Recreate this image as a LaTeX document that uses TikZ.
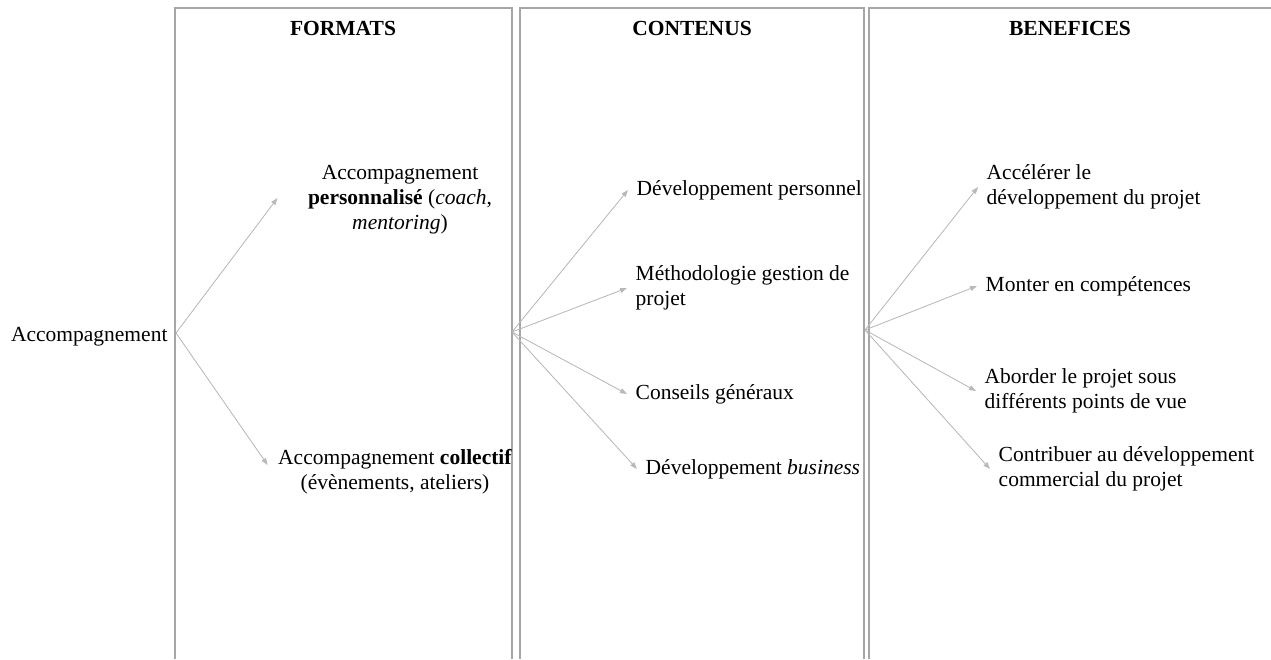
\documentclass[tikz,border=0pt]{standalone}
\usepackage{fontspec}
\setmainfont{Liberation Serif}
\usetikzlibrary{arrows.meta}
\begin{document}
\begin{tikzpicture}[x=1pt, y=-1pt, >={Triangle[length=7pt,width=5pt]},
    font=\fontsize{21.5}{25}\selectfont,
    col/.style={draw=gray!70, line width=1.3pt},
    fl/.style={->, draw=gray!55, fill=gray!70, line width=0.8pt},
    item/.style={anchor=west, align=left, inner xsep=8.5pt},
    head/.style={font=\fontsize{21.5}{25}\selectfont\bfseries}]
\useasboundingbox (0,0) rectangle (1271,659);
% colonnes
\draw[col] (175,659) |- (512,8) -- (512,659);
\draw[col] (520,659) |- (864,8) -- (864,659);
\draw[col] (869,659) |- (1271,8);
\node[head] (formats) at (343,28) {FORMATS};
\node[head] (contenus) at (692,28) {CONTENUS};
\node[head] (benef) at (1070,28) {BENEFICES};
\coordinate (h1) at (176,333);
\coordinate (h2) at (512,332);
\coordinate (h3) at (865,330);
\node[anchor=east] (acc) at (171,337) {Accompagnement};
% formats
\node[align=center] (perso) at (400,200) {Accompagnement\\\textbf{personnalisé} (\textit{coach},\\\textit{mentoring})};
\node[align=center] (coll) at (395,472) {Accompagnement \textbf{collectif}\\(évènements, ateliers)};
% contenus
\node[item] (devp) at (628,190) {Développement personnel};
\node[item] (meth) at (627,288) {Méthodologie gestion de\\projet};
\node[item] (cons) at (627,394) {Conseils généraux};
\node[item] (devb) at (637,469) {Développement \textit{business}};
% benefices
\node[item] (acce) at (978,187) {Accélérer le\\développement du projet};
\node[item] (mont) at (977,286) {Monter en compétences};
\node[item] (abor) at (976,391) {Aborder le projet sous\\différents points de vue};
\node[item] (cont) at (990,469) {Contribuer au développement\\commercial du projet};
\draw[fl] (h1) -- ([shift={(-27pt,2pt)}]perso.west);
\draw[fl] (h1) -- ([shift={(-7pt,7pt)}]coll.west);
\foreach \n in {devp,meth,cons,devb}
    \draw[fl] (h2) -- (\n.west);
\foreach \n in {acce,mont,abor,cont}
    \draw[fl] (h3) -- (\n.west);
\end{tikzpicture}
\end{document}
